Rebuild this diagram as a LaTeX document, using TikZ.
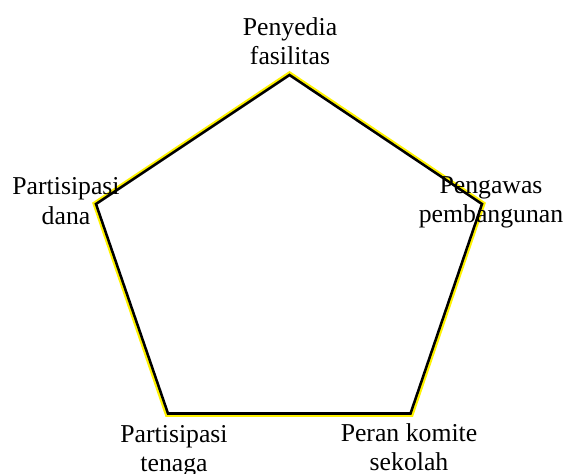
\documentclass[tikz,border=0pt]{standalone}
\usepackage{fontspec}
\setmainfont{Liberation Serif}
\usetikzlibrary{calc, positioning}

\begin{document}
\begin{tikzpicture}[
    x=0.75pt, y=-0.75pt,
    lbl/.style={align=center, inner sep=0pt, anchor=base, font=\fontsize{19.3}{21.75}\selectfont},
    rim/.style={draw=black, line width=1.9pt},
    glow/.style={draw=yellow, line width=2pt}
]
\useasboundingbox (0,0) rectangle (568,474);
\coordinate (mid)   at (289,262);
\coordinate (fasil) at (289.5,75);
\coordinate (awas)  at (482,204);
\coordinate (komite) at (410.5,413.5);
\coordinate (tenaga) at (168,413.5);
\coordinate (dana)  at (96,204);
\draw[glow] ($(mid)!1.013!(fasil)$) -- ($(mid)!1.012!(awas)$) -- ($(mid)!1.013!(komite)$)
    -- ($(mid)!1.013!(tenaga)$) -- ($(mid)!1.012!(dana)$) -- cycle;
\draw[rim] (fasil) -- (awas) -- (komite) -- (tenaga) -- (dana) -- cycle;
\node[lbl] (lfasil)  at (290,65)  {Penyedia\\fasilitas};
\node[lbl] (ldana)   at (66,224)  {Partisipasi\\dana};
\node[lbl] (lawas)   at (491,223) {Pengawas\\pembangunan};
\node[lbl] (ltenaga) at (174,471) {Partisipasi\\tenaga};
\node[lbl] (lkomite) at (409,470) {Peran komite\\sekolah};
\end{tikzpicture}
\end{document}
